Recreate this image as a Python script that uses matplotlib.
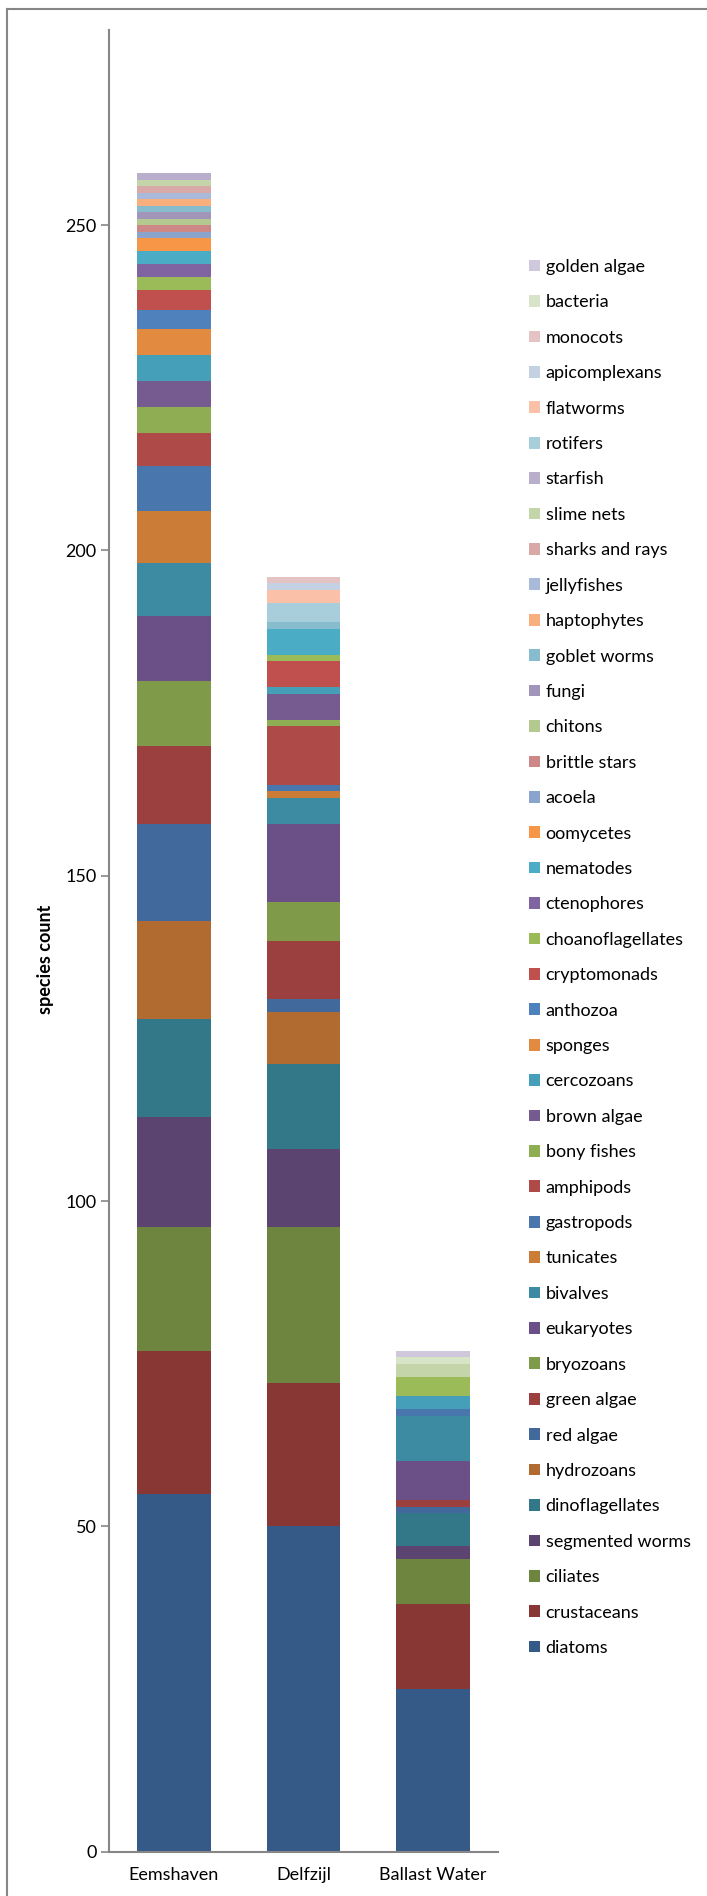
import numpy as np
import matplotlib.pyplot as plt
from matplotlib.lines import Line2D

sites = ['Eemshaven', 'Delfzijl', 'Ballast Water']

# stacking order, bottom to top
groups = ['diatoms', 'crustaceans', 'ciliates', 'segmented worms', 'dinoflagellates',
          'hydrozoans', 'red algae', 'green algae', 'bryozoans', 'eukaryotes',
          'bivalves', 'tunicates', 'gastropods', 'amphipods', 'bony fishes',
          'brown algae', 'cercozoans', 'sponges', 'anthozoa', 'cryptomonads',
          'choanoflagellates', 'ctenophores', 'nematodes', 'oomycetes', 'acoela',
          'brittle stars', 'chitons', 'fungi', 'goblet worms', 'haptophytes',
          'jellyfishes', 'sharks and rays', 'slime nets', 'starfish', 'rotifers',
          'flatworms', 'apicomplexans', 'monocots', 'bacteria', 'golden algae']

eemshaven = [55, 22, 19, 17, 15, 15, 15, 12, 10, 10, 8, 8, 7, 5, 4, 4, 4, 4, 3, 3,
             2, 2, 2, 2, 1, 1, 1, 1, 1, 1, 1, 1, 1, 1, 0, 0, 0, 0, 0, 0]
delfzijl = [50, 22, 24, 12, 13, 8, 2, 9, 6, 12, 4, 1, 1, 9, 1, 4, 1, 0, 0, 4,
            1, 0, 4, 0, 0, 0, 0, 0, 1, 0, 0, 0, 0, 0, 3, 2, 1, 1, 0, 0]
ballast = [25, 13, 7, 2, 5, 0, 1, 1, 0, 6, 7, 0, 1, 0, 0, 0, 2, 0, 0, 0,
           3, 0, 0, 0, 0, 0, 0, 0, 0, 0, 0, 0, 2, 0, 0, 0, 0, 0, 1, 1]

colors = ['#355A87', '#893735', '#6D853E', '#5B4570', '#327889',
          '#B16B31', '#41699B', '#9C403F', '#7F9A48', '#6A5086',
          '#3D8BA2', '#CB7C37', '#4876AD', '#AE4A47', '#8FAD53',
          '#765B91', '#459FB8', '#E28A40', '#4F81BD', '#C0504D',
          '#9BBB59', '#8064A2', '#4BACC6', '#F79646', '#8AA4CE',
          '#CD8786', '#B3C98F', '#A196BA', '#86BCCD', '#F9AE7E',
          '#A9B9D9', '#D9A9A8', '#C5D5AA', '#B9AECB', '#A9CEDB',
          '#FAC0A8', '#C4D1E3', '#E5C3C4', '#D8E4C8', '#CFC8DC']

plt.rcParams['font.family'] = ['Lato', 'DejaVu Sans']

W, H = 707, 1896
fig = plt.figure(figsize=(W / 100, H / 100), dpi=100)
ax = fig.add_axes([109 / W, 1 - 1851.7 / H, (498 - 109) / W, (1851.7 - 30) / H])

counts = np.array([eemshaven, delfzijl, ballast]).T
x = np.arange(len(sites))
bottom = np.zeros(len(sites))
for name, vals, c in zip(groups, counts, colors):
    ax.bar(x, vals, 0.57, bottom=bottom, color=c, label=name, linewidth=0)
    bottom += vals

ax.set_xlim(-0.5, 2.5)
ax.set_ylim(0, 280)
ax.set_yticks(range(0, 251, 50))
ax.set_xticks(x)
ax.set_xticklabels(sites)
for s in ['top', 'right']:
    ax.spines[s].set_visible(False)
for s in ['left', 'bottom']:
    ax.spines[s].set_color('#868686')
    ax.spines[s].set_linewidth(1.5)
ax.tick_params(axis='y', direction='out', length=6, width=1.2, color='#868686',
               labelsize=13, pad=3)
ax.tick_params(axis='x', length=0, labelsize=13, pad=11)
ax.set_ylabel('species count', fontweight='bold', fontsize=13)
ax.yaxis.set_label_coords(-(109 - 54) / 389, 0.49)

h, l = ax.get_legend_handles_labels()
fig.legend(h[::-1], l[::-1], loc='upper left', bbox_to_anchor=(529 / W, 1 - 259 / H),
           frameon=False, fontsize=13, handlelength=0.62, handleheight=0.62,
           handletextpad=0.3, labelspacing=1.075, borderpad=0, borderaxespad=0)

# outer chart border (only top and left edges visible)
fig.add_artist(Line2D([7 / W, 7 / W], [0, 1 - 9 / H], transform=fig.transFigure,
                      color='#868686', lw=1.5))
fig.add_artist(Line2D([7 / W, 1], [1 - 9 / H, 1 - 9 / H], transform=fig.transFigure,
                      color='#868686', lw=1.5))

fig.savefig('out.png', dpi=100)
